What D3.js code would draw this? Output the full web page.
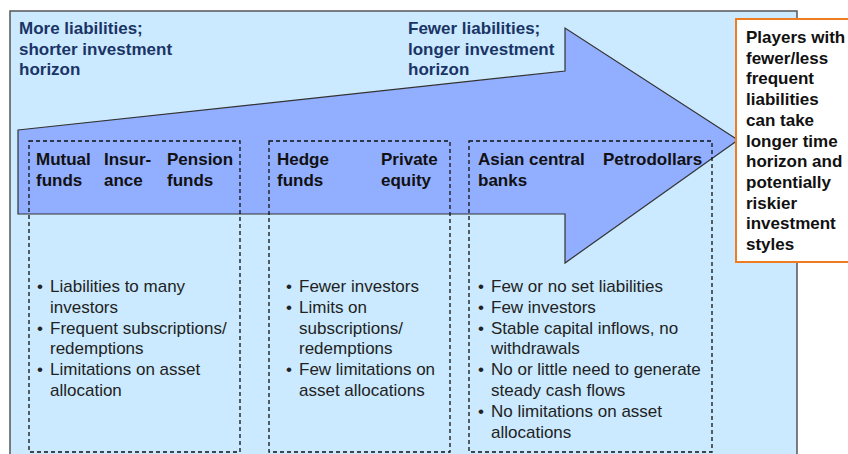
<!DOCTYPE html>
<html>
<head>
<meta charset="utf-8">
<script src="https://cdn.jsdelivr.net/npm/d3@7"></script>
<style>
  body { margin: 0; background: #fff; }
  text { font-family: "Liberation Sans", Arial, sans-serif; }
</style>
</head>
<body>
<div id="chart"></div>
<script>
// labels for the two ends of the arrow
var leftLabel = ["More liabilities;", "shorter investment", "horizon"];
var rightLabel = ["Fewer liabilities;", "longer investment", "horizon"];

// player groups (headers per column) and their characteristics
var groupHeaders = [
  [["Mutual", "funds"], ["Insur-", "ance"], ["Pension", "funds"]],
  [["Hedge", "funds"], ["Private", "equity"]],
  [["Asian central", "banks"], ["Petrodollars"]]
];
var groupBullets = [
  [["Liabilities to many", "investors"], ["Frequent subscriptions/", "redemptions"], ["Limitations on asset", "allocation"]],
  [["Fewer investors"], ["Limits on", "subscriptions/", "redemptions"], ["Few limitations on", "asset allocations"]],
  [["Few or no set liabilities"], ["Few investors"], ["Stable capital inflows, no", "withdrawals"], ["No or little need to generate", "steady cash flows"], ["No limitations on asset", "allocations"]]
];
var calloutLines = ["Players with", "fewer/less", "frequent", "liabilities", "can take", "longer time", "horizon and", "potentially", "riskier", "investment", "styles"];

var width = 848, height = 454;
var lineH = 20.8;

var svg = d3.select("#chart").append("svg")
    .attr("width", width)
    .attr("height", height);

// background panel
svg.append("rect")
    .attr("x", 10).attr("y", 11)
    .attr("width", 787).attr("height", 460)
    .attr("fill", "#cbeaff")
    .attr("stroke", "#555")
    .attr("stroke-width", 1.5);

// big arrow
var arrowPts = [[18, 130], [565, 71], [565, 28], [738, 140], [565, 263], [565, 214], [18, 214]];
svg.append("path")
    .attr("d", d3.line()(arrowPts) + "Z")
    .attr("fill", "#91aeff")
    .attr("stroke", "#333")
    .attr("stroke-width", 1.2);

// end labels
function multiline(lines, x, y0, opts) {
  var t = svg.append("text")
      .attr("x", x).attr("y", y0)
      .attr("font-size", opts.size)
      .attr("font-weight", opts.weight)
      .attr("fill", opts.color);
  lines.forEach(function(l, i) {
    t.append("tspan").attr("x", x).attr("y", y0 + i * opts.lh).text(l);
  });
  return t;
}

var navy = { size: 17, weight: "bold", color: "#1a3466", lh: 20.5 };
multiline(leftLabel, 19, 34, navy);
multiline(rightLabel, 408, 34, navy);

// dashed group boxes
var boxX = d3.scaleOrdinal().domain([0, 1, 2]).range([29, 269, 469]);
var boxW = d3.scaleOrdinal().domain([0, 1, 2]).range([211, 181, 243]);
var headerX = [[36, 104, 167], [277, 381], [478, 603]];
var bulletX = [40, 289, 481];

groupHeaders.forEach(function(heads, g) {
  svg.append("rect")
      .attr("x", boxX(g)).attr("y", 141)
      .attr("width", boxW(g)).attr("height", 311)
      .attr("fill", "none")
      .attr("stroke", "#111")
      .attr("stroke-width", 1.3)
      .attr("stroke-dasharray", "4,3");

  heads.forEach(function(h, j) {
    multiline(h, headerX[g][j], 165, { size: 17, weight: "bold", color: "#111", lh: 20.5 });
  });

  var row = 0;
  groupBullets[g].forEach(function(b) {
    var y = 292 + row * lineH;
    svg.append("text")
        .attr("x", bulletX[g]).attr("y", y)
        .attr("font-size", 17)
        .attr("fill", "#222")
        .attr("text-anchor", "middle")
        .text("\u2022");
    multiline(b, bulletX[g] + 10, y, { size: 17, weight: "normal", color: "#222", lh: lineH });
    row += b.length;
  });
});

// callout box
svg.append("rect")
    .attr("x", 736).attr("y", 19)
    .attr("width", 120).attr("height", 243)
    .attr("fill", "#fff")
    .attr("stroke", "#ee7d21")
    .attr("stroke-width", 2);

multiline(calloutLines, 746, 43, { size: 17, weight: "bold", color: "#111", lh: 20.7 });
</script>
</body>
</html>
